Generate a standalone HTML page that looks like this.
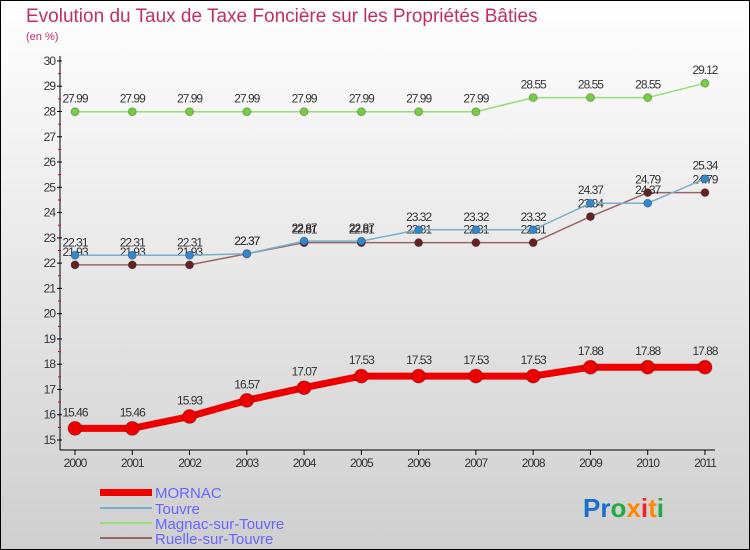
<!DOCTYPE html>
<html><head><meta charset="utf-8"><style>
body{margin:0;width:750px;height:550px;overflow:hidden}
svg{display:block;font-family:"Liberation Sans",sans-serif}
</style></head><body>
<svg id="c" width="750" height="550" xmlns="http://www.w3.org/2000/svg">
<defs><linearGradient id="bg" x1="0" y1="0" x2="0" y2="1"><stop offset="0" stop-color="#ffffff"/><stop offset="1" stop-color="#cfcfcf"/></linearGradient></defs>
<rect x="0.5" y="0.5" width="749" height="549" fill="url(#bg)" stroke="#000"/>
<text x="26" y="22" font-size="19" fill="#c0305e">Evolution du Taux de Taxe Foncière sur les Propriétés Bâties</text>
<text x="26" y="40" font-size="11" fill="#c0305e">(en %)</text>
<g id="axes"></g><g id="series"></g>
<g>
<rect x="100" y="489" width="52" height="7" fill="#ee0000"/>
<text x="155" y="498" font-size="15" fill="#6666ff">MORNAC</text>
<rect x="100" y="507" width="52" height="2" fill="#7aaecc"/>
<text x="155" y="514" font-size="15" fill="#6666ff">Touvre</text>
<rect x="100" y="522" width="52" height="2" fill="#99dd77"/>
<text x="155" y="529" font-size="15" fill="#6666ff">Magnac-sur-Touvre</text>
<rect x="100" y="537" width="52" height="2" fill="#996666"/>
<text x="155" y="544" font-size="15" fill="#6666ff">Ruelle-sur-Touvre</text>
</g>
<text x="583" y="517" font-size="26" font-weight="bold"><tspan fill="#1a6fcc">Pr</tspan><tspan fill="#22aa44">o</tspan><tspan fill="#ff8800">x</tspan><tspan fill="#ee2222">i</tspan><tspan fill="#ff8800">t</tspan><tspan fill="#22aa44">i</tspan></text>
</svg>
<script>
const years=[2000,2001,2002,2003,2004,2005,2006,2007,2008,2009,2010,2011];
const mornac=[15.46,15.46,15.93,16.57,17.07,17.53,17.53,17.53,17.53,17.88,17.88,17.88];
const touvre=[22.31,22.31,22.31,22.37,22.87,22.87,23.32,23.32,23.32,24.37,24.37,25.34];
const magnac=[27.99,27.99,27.99,27.99,27.99,27.99,27.99,27.99,28.55,28.55,28.55,29.12];
const ruelle=[21.93,21.93,21.93,22.37,22.81,22.81,22.81,22.81,22.81,23.84,24.79,24.79];
const yTicks=[15,16,17,18,19,20,21,22,23,24,25,26,27,28,29,30];
const NS="http://www.w3.org/2000/svg";
const xS=i=>75+i*57.27, yS=v=>440-(v-15)*25.27;
function mk(t,a,p){const e=document.createElementNS(NS,t);for(const k in a)e.setAttribute(k,a[k]);p.appendChild(e);return e;}
const ax=document.getElementById('axes'), sg=document.getElementById('series');
let l=mk('line',{x1:60,y1:56,x2:60,y2:450,stroke:'#000'},ax);


l=mk('line',{x1:60,y1:450,x2:715,y2:450,stroke:'#000'},ax);


yTicks.forEach(v=>{const y=yS(v);
 mk('line',{x1:57,y1:y,x2:62,y2:y,stroke:'#000'},ax);
 if(v<30)mk('line',{x1:58,y1:y-12.6,x2:61,y2:y-12.6,stroke:'#e00'},ax);
 const t=mk('text',{x:55,y:y+4,'font-size':12,fill:'#333','text-anchor':'end','letter-spacing':'-1'},ax);t.textContent=v;
 
 });
years.forEach((yr,i)=>{const x=xS(i);mk('line',{x1:x,y1:450,x2:x,y2:455,stroke:'#000'},ax);
 const t=mk('text',{x:x,y:467,'font-size':12,fill:'#333','text-anchor':'middle','letter-spacing':'-1'},ax);t.textContent=yr;
 
 });
function series(d,name,col,dot,w,r,off){
 const g=mk('g',{},sg);
 
 
 mk('polyline',{points:d.map((v,i)=>xS(i)+','+yS(v)).join(' '),fill:'none',stroke:col,'stroke-width':w,'stroke-linejoin':'round'},g);
 d.forEach((v,i)=>{const c=mk('circle',{cx:xS(i),cy:yS(v),r:r,fill:dot,stroke:'rgba(0,0,0,0.25)'},g);
  
  
  const t=mk('text',{x:xS(i),y:yS(v)-off,'font-size':12,fill:'#333','text-anchor':'middle','letter-spacing':'-1'},g);t.textContent=v.toFixed(2);
  
  });
}
series(magnac,'magnac','#99dd77','#77cc44',1.5,4,9);
series(ruelle,'ruelle','#996666','#662222',1.5,4,9);
series(touvre,'touvre','#7aaecc','#3388cc',1.5,4,9);
series(mornac,'mornac','#ee0000','#ee0000',7,7,12);
</script>
</body></html>
